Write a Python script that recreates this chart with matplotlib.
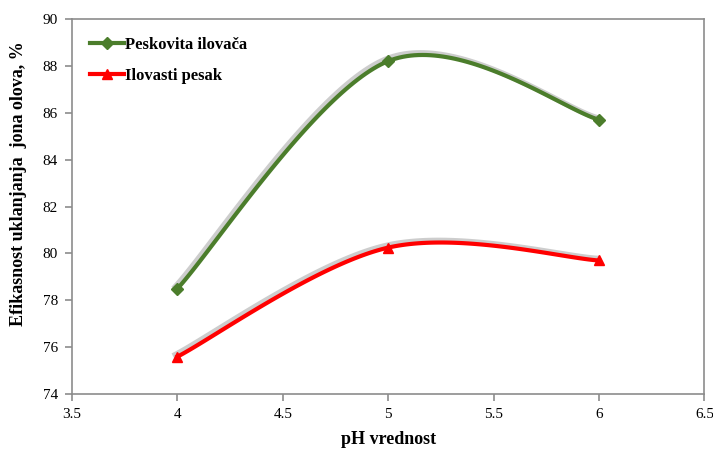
import numpy as np
import matplotlib
matplotlib.use("Agg")
import matplotlib.pyplot as plt
import matplotlib.patheffects as pe

ph = [4, 5, 6]
peskovita = [78.5, 88.2, 85.7]
ilovasti = [75.6, 80.25, 79.7]

SERIF = ["Liberation Serif", "DejaVu Serif"]


def smooth(x, y, n=60):
    # Excel-style smoothed line: Catmull-Rom as cubic Bezier segments
    x = np.asarray(x, float)
    y = np.asarray(y, float)
    pts = np.column_stack([x, y])
    ext = np.vstack([pts[0], pts, pts[-1]])
    out = []
    t = np.linspace(0, 1, n)[:, None]
    for i in range(len(pts) - 1):
        p0, p3 = ext[i + 1], ext[i + 2]
        c1 = p0 + (ext[i + 2] - ext[i]) / 6
        c2 = p3 - (ext[i + 3] - ext[i + 1]) / 6
        seg = ((1 - t) ** 3 * p0 + 3 * (1 - t) ** 2 * t * c1
               + 3 * (1 - t) * t ** 2 * c2 + t ** 3 * p3)
        out.append(seg if i == 0 else seg[1:])
    s = np.vstack(out)
    return s[:, 0], s[:, 1]


fig = plt.figure(figsize=(7.13, 4.5), dpi=100)
ax = fig.add_axes([0.101, 0.124, 0.887, 0.834])

shadow = [pe.SimpleLineShadow(offset=(-1.5, 1.5), shadow_color="#b8b8b8",
                              alpha=0.7, linewidth=4), pe.Normal()]

for yv, color, marker, ms, label in [
        (peskovita, "#4b7d2b", "D", 6, "Peskovita ilovača"),
        (ilovasti, "#ff0000", "^", 7, "Ilovasti pesak")]:
    sx, sy = smooth(ph, yv)
    ax.plot(sx, sy, color=color, lw=3, path_effects=shadow, zorder=2)
    ax.plot(ph, yv, linestyle="none", marker=marker, ms=ms, color=color,
            zorder=3)
    ax.plot([], [], color=color, lw=3, marker=marker, ms=ms, label=label)

ax.set_xlim(3.5, 6.5)
ax.set_ylim(74, 90)
ax.set_xticks(np.arange(3.5, 6.51, 0.5))
ax.set_xticklabels(["3.5", "4", "4.5", "5", "5.5", "6", "6.5"])
ax.set_yticks(np.arange(74, 91, 2))

for sp in ax.spines.values():
    sp.set_color("#8c8c8c")
    sp.set_linewidth(1.2)
ax.tick_params(direction="out", length=5, color="#8c8c8c", width=1.2,
               labelsize=11, pad=5)
for lab in ax.get_xticklabels() + ax.get_yticklabels():
    lab.set_family(SERIF)

ax.set_xlabel("pH vrednost", family=SERIF, fontweight="bold", fontsize=13,
              labelpad=7)
ax.set_ylabel("Efikasnost uklanjanja  jona olova, %", family=SERIF,
              fontweight="bold", fontsize=13)
ax.yaxis.set_label_coords(-0.071, 0.56)

leg = ax.legend(loc="upper left", frameon=False, handlelength=2.0,
                handletextpad=0.1, borderaxespad=0.7, labelspacing=0.9,
                prop={"family": SERIF, "weight": "bold", "size": 12})

fig.savefig("out.png", dpi=100)
